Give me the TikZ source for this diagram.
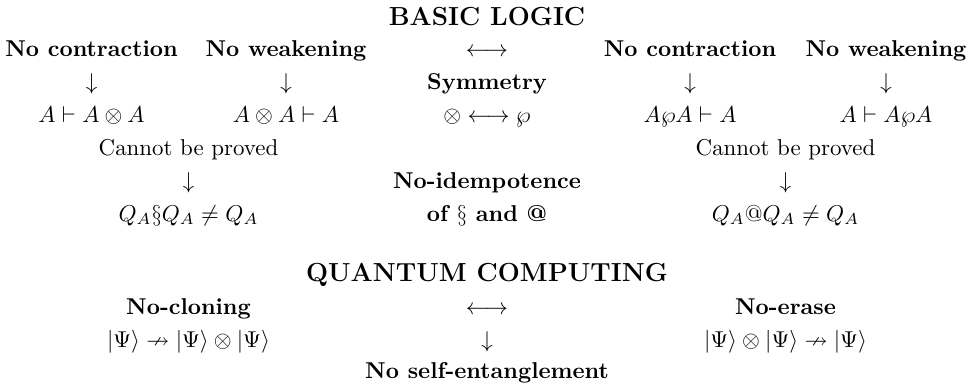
\documentclass[tikz,border=0pt]{standalone}
\usepackage{amsmath,amssymb}
\begin{document}
\begin{tikzpicture}[x=0.4364pt,y=-0.4364pt,
  txt/.style={anchor=base,inner sep=0pt,outer sep=0pt},
  bftxt/.style={txt,font=\bfseries},
  ttl/.style={txt,font=\fontsize{11.4}{13.7}\selectfont\bfseries}]
\useasboundingbox (0,0) rectangle (968,385);
% ---- Basic logic ----
\node[ttl] (t1) at (487,25) {BASIC LOGIC};
\node[bftxt] (c1) at (91.5,56) {No contraction};
\node[bftxt] (w1) at (286,56) {No weakening};
\node[txt] (lr1) at (487,56) {$\longleftrightarrow$};
\node[bftxt] (c2) at (690,56) {No contraction};
\node[bftxt] (w2) at (886,56) {No weakening};
\node[txt] (d1) at (91.5,89) {$\downarrow$};
\node[txt] (d2) at (286,89) {$\downarrow$};
\node[bftxt] (sym) at (487,89) {Symmetry};
\node[txt] (d3) at (690,89) {$\downarrow$};
\node[txt] (d4) at (886,89) {$\downarrow$};
\node[txt] (f1) at (91.5,122) {$A\vdash A\otimes A$};
\node[txt] (f2) at (286,122) {$A\otimes A\vdash A$};
\node[txt] (f3) at (487,122) {$\otimes\longleftrightarrow\wp$};
\node[txt] (f4) at (690,122) {$A\wp A\vdash A$};
\node[txt] (f5) at (886,122) {$A\vdash A\wp A$};
\node[txt] (cp1) at (188.5,155) {Cannot be proved};
\node[txt] (cp2) at (785.5,155) {Cannot be proved};
\node[txt] (d5) at (188.5,188) {$\downarrow$};
\node[bftxt] (ni) at (487,188) {No-idempotence};
\node[txt] (d6) at (785.5,188) {$\downarrow$};
\node[txt] (q1) at (188.5,221) {$Q_A\S Q_A\neq Q_A$};
\node[bftxt] (ni2) at (487,221) {of $\S$ and @};
\node[txt] (q2) at (785.5,221) {$Q_A@Q_A\neq Q_A$};
% ---- Quantum computing ----
\node[ttl] (t2) at (487,281) {QUANTUM COMPUTING};
\node[bftxt] (nc) at (188.5,314) {No-cloning};
\node[txt] (lr2) at (487,314) {$\longleftrightarrow$};
\node[bftxt] (ne) at (785.5,314) {No-erase};
\node[txt] (g1) at (188.5,347) {$|\Psi\rangle\nrightarrow|\Psi\rangle\otimes|\Psi\rangle$};
\node[txt] (d7) at (487,347) {$\downarrow$};
\node[txt] (g2) at (785.5,347) {$|\Psi\rangle\otimes|\Psi\rangle\nrightarrow|\Psi\rangle$};
\node[bftxt] (nse) at (487,378) {No self-entanglement};
\end{tikzpicture}
\end{document}
